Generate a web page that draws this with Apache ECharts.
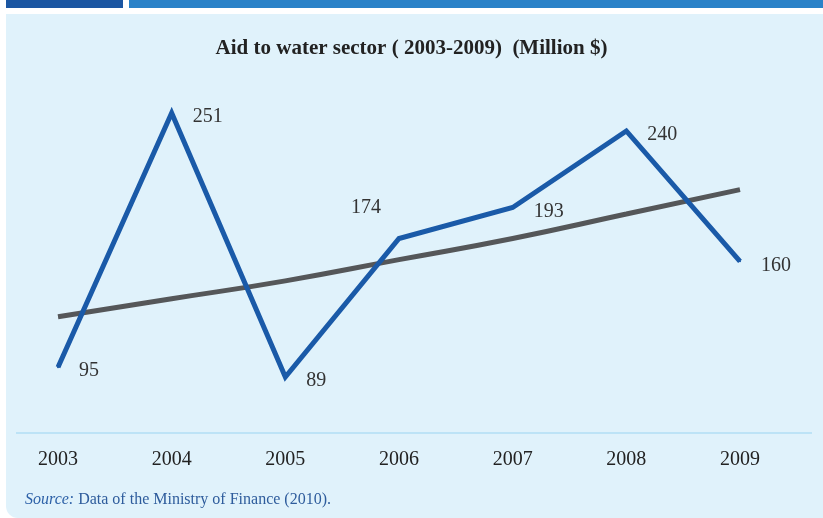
<!DOCTYPE html>
<html>
<head>
<meta charset="utf-8">
<script src="https://cdn.jsdelivr.net/npm/echarts@6/dist/echarts.min.js"></script>
<style>
html,body{margin:0;padding:0;background:#ffffff;}
#chart{width:823px;height:518px;}
</style>
</head>
<body>
<div id="chart"></div>
<script>
var titleText = 'Aid to water sector ( 2003-2009)  (Million $)';
var years = ['2003', '2004', '2005', '2006', '2007', '2008', '2009'];
var aidValues = [95, 251, 89, 174, 193, 240, 160];
var trendValues = [126, 137, 148, 161, 174, 189, 204];
var sourceLabel = 'Source:';
var sourceText = ' Data of the Ministry of Finance (2010).';

var serif = '"Liberation Serif", "DejaVu Serif", serif';
var chart = echarts.init(document.getElementById('chart'), null, {renderer: 'canvas'});

var aidData = aidValues.map(function (v, i) {
  var d = {value: v};
  if (years[i] === '2006') {
    d.label = {position: [-47, -40]};
  }
  return d;
});

var option = {
  backgroundColor: '#ffffff',
  animation: false,
  graphic: [
    {type: 'rect', shape: {x: 6, y: 0, width: 117, height: 8}, style: {fill: '#1b56a2'}, z: 0},
    {type: 'rect', shape: {x: 129, y: 0, width: 694, height: 8}, style: {fill: '#2a82c8'}, z: 0},
    {type: 'rect', shape: {x: 6, y: 14, width: 817, height: 504, r: [0, 0, 0, 12]}, style: {fill: '#e0f2fb'}, z: -1, zlevel: 0},
    {type: 'line', shape: {x1: 16, y1: 433, x2: 812, y2: 433}, style: {stroke: '#bde3f6', lineWidth: 2}, z: 1},
    {type: 'text', left: 25, top: 492, style: {
      text: '{i|' + sourceLabel + '}{r|' + sourceText + '}',
      rich: {
        i: {fontFamily: serif, fontStyle: 'italic', fontSize: 16, fill: '#2e62a8'},
        r: {fontFamily: serif, fontSize: 16, fill: '#2e5c9c'}
      }
    }, z: 5}
  ],
  title: {
    text: titleText,
    left: 'center',
    top: 33,
    textStyle: {fontFamily: serif, fontWeight: 'bold', fontSize: 21, color: '#222222'}
  },
  grid: {left: 58, right: 83, top: 65.75, bottom: 85.6, containLabel: false},
  xAxis: {
    type: 'category',
    data: years,
    boundaryGap: false,
    axisLine: {show: false},
    axisTick: {show: false},
    axisLabel: {fontFamily: serif, fontSize: 20, color: '#222222', margin: 17}
  },
  yAxis: {
    type: 'value',
    min: 55,
    max: 280,
    show: false,
    splitLine: {show: false}
  },
  series: [
    {
      name: 'Trend',
      type: 'line',
      data: trendValues,
      smooth: true,
      symbol: 'none',
      lineStyle: {color: '#555759', width: 5},
      z: 2
    },
    {
      name: 'Aid',
      type: 'line',
      data: aidData,
      symbol: 'circle',
      symbolSize: 2,
      showSymbol: true,
      itemStyle: {color: '#1a5aa8', borderWidth: 0},
      lineStyle: {color: '#1a5aa8', width: 5, join: 'miter'},
      label: {
        show: true,
        position: [22, -5],
        fontFamily: serif,
        fontSize: 20,
        color: '#333333'
      },
      labelLayout: {hideOverlap: false},
      z: 3
    }
  ]
};
chart.setOption(option);
</script>
</body>
</html>
